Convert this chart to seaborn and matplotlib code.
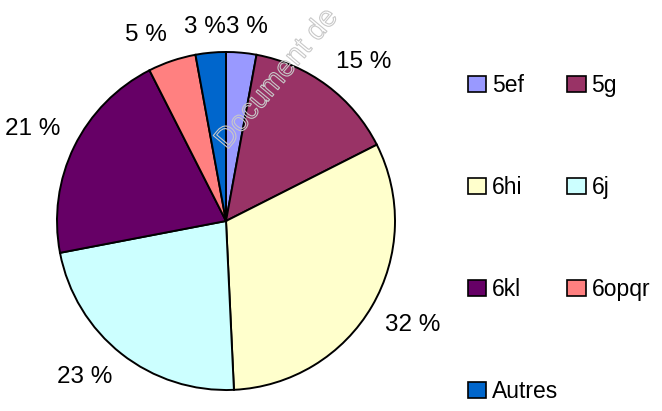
import numpy as np
import matplotlib
matplotlib.use("Agg")
import matplotlib.pyplot as plt
import matplotlib.patheffects as pe
from matplotlib.patches import Patch
import seaborn as sns

# Data (share of each group, %)
groups = ["5ef", "5g", "6hi", "6j", "6kl", "6opqr", "Autres"]
shares = [2.9, 14.7, 31.8, 22.8, 20.6, 4.6, 2.9]
colors = ["#9999FF", "#993366", "#FFFFCC", "#CCFFFF", "#660066", "#FF8080", "#0066CC"]

sns.set_style("white")
plt.rcParams["font.family"] = ["Liberation Sans", "DejaVu Sans"]
plt.rcParams["text.color"] = "black"

W, H = 662, 411
fig = plt.figure(figsize=(W / 100, H / 100), dpi=100)

# pie area: center (226, 221) px from top-left, radius 169 px
cx, cy, r = 226, 221, 169
ax = fig.add_axes([(cx - r) / W, (H - cy - r) / H, 2 * r / W, 2 * r / H])

wedges, _ = ax.pie(shares, colors=colors, startangle=90, counterclock=False,
                   radius=1, wedgeprops=dict(edgecolor="black", linewidth=1.4))
ax.set_xlim(-1, 1)
ax.set_ylim(-1, 1)
ax.set_aspect("equal")
ax.axis("off")

# percentage labels outside the pie, anchored at the nearest corner
frac = np.array(shares) / np.sum(shares)
mids = np.cumsum(frac) - frac / 2
for f, m in zip(frac, mids):
    ang = 2 * np.pi * m
    s, c = np.sin(ang), np.cos(ang)
    ha = "left" if s > 0 else "right"
    x = 1.09 * s if abs(s) >= 0.15 else 0
    va = "center" if abs(c) < 0.15 else ("bottom" if c > 0 else "top")
    ax.text(x, 1.09 * c, f"{f * 100:.0f} %", ha=ha, va=va,
            fontsize=17.5, color="black", clip_on=False)

# watermark (outlined text)
fig.text(0.35, 0.625, "Document de", rotation=50, fontsize=21,
         color="none", ha="left", va="bottom", rotation_mode="anchor",
         path_effects=[pe.Stroke(linewidth=0.8, foreground="#c8c8c8")])

# legend, filled row by row (two columns)
handles = [Patch(facecolor=col, edgecolor="black", linewidth=1.2) for col in colors]
order = [0, 2, 4, 6, 1, 3, 5]
fig.legend([handles[i] for i in order], [groups[i] for i in order],
           ncol=2, loc="upper left", bbox_to_anchor=(468 / W, 1 - 74 / H),
           frameon=False, fontsize=16.5, handlelength=0.8, handleheight=0.7,
           handletextpad=0.25, columnspacing=0.4, labelspacing=3.45,
           borderpad=0, borderaxespad=0, labelcolor="black")

fig.savefig("out.png", dpi=100)
